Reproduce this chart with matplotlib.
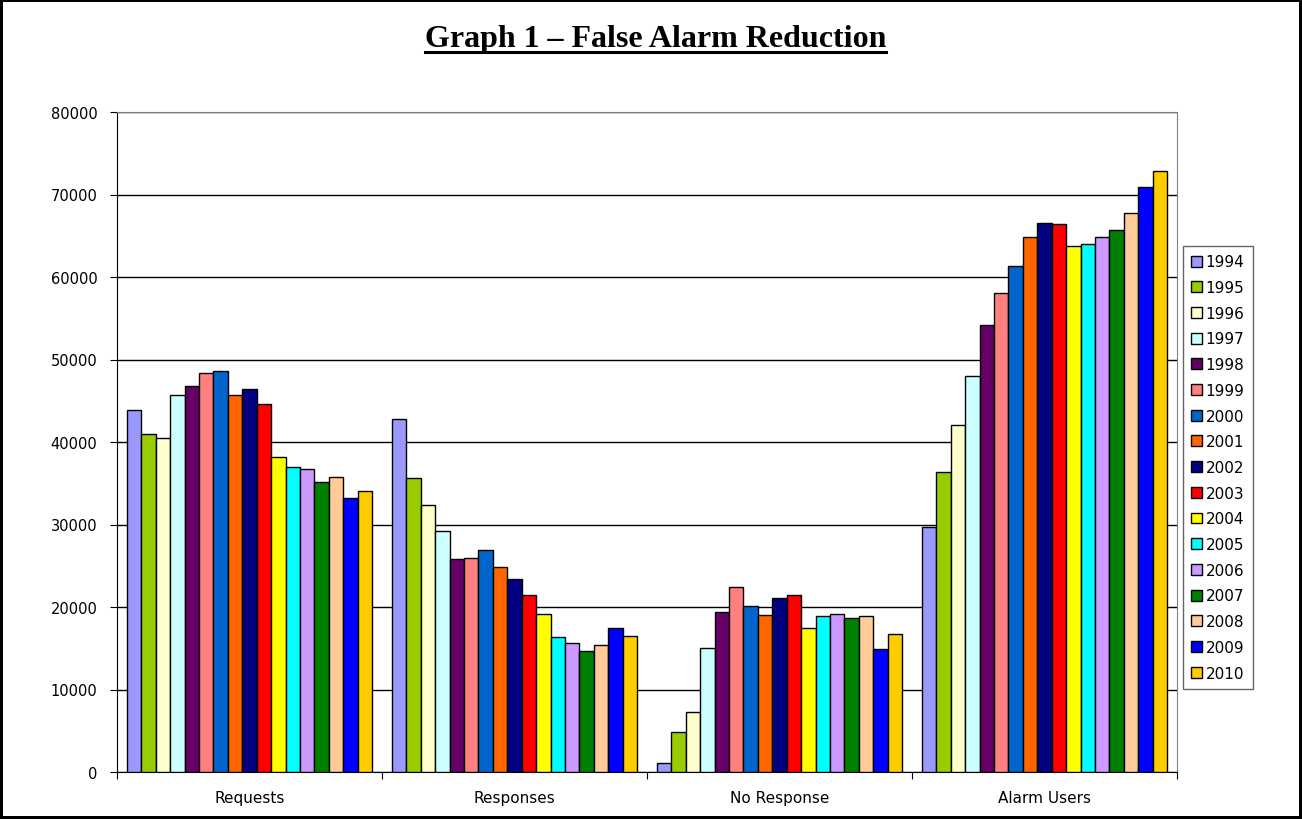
import numpy as np
import matplotlib.pyplot as plt
from matplotlib.lines import Line2D

# yearly counts for each category
categories = ["Requests", "Responses", "No Response", "Alarm Users"]
years = [str(y) for y in range(1994, 2011)]

requests = [43900, 40950, 40500, 45700, 46800, 48400, 48600, 45700, 46400,
            44600, 38200, 37000, 36700, 35200, 35800, 33200, 34100]
responses = [42800, 35600, 32400, 29200, 25850, 25900, 26900, 24850, 23400,
             21400, 19200, 16400, 15600, 14700, 15350, 17500, 16500]
no_response = [1100, 4800, 7300, 15050, 19400, 22450, 20100, 19050, 21050,
               21400, 17450, 18900, 19200, 18700, 18950, 14900, 16700]
alarm_users = [29750, 36350, 42100, 48000, 54200, 58100, 61300, 64800, 66600,
               66400, 63700, 63950, 64800, 65700, 67700, 70950, 72800]

colors = ["#9999FF", "#99CC00", "#FFFFCC", "#CCFFFF", "#660066", "#FF8080",
          "#0066CC", "#FF6600", "#000080", "#FF0000", "#FFFF00", "#00FFFF",
          "#CC99FF", "#008000", "#FFCC99", "#0000FF", "#FFCC00"]

data = np.array([requests, responses, no_response, alarm_users])  # shape (4, 17)

plt.rcParams['font.family'] = ['DejaVu Sans']

fig = plt.figure(figsize=(13.02, 8.2), dpi=100)
fig.patch.set_edgecolor('black')
fig.patch.set_linewidth(3)

ax = fig.add_axes([117/1302, 47/820, 1060/1302, 660/820])

n = len(years)
bar_w = 1.0 / (n + 1.4)
x = np.arange(len(categories))
for i, yr in enumerate(years):
    offs = (i - (n - 1) / 2) * bar_w
    ax.bar(x + offs, data[:, i], width=bar_w, color=colors[i],
           edgecolor='black', linewidth=1.0, label=yr, zorder=3)

ax.set_xlim(-0.5, len(categories) - 0.5)
ax.set_ylim(0, 80000)
ax.set_yticks(np.arange(0, 80001, 10000))
ax.yaxis.grid(True, color='black', linewidth=1.0, zorder=0)
ax.set_axisbelow(True)

# category labels centred, ticks on group boundaries
ax.set_xticks(np.arange(-0.5, len(categories), 1.0))
ax.set_xticklabels([])
ax.set_xticks(x, minor=True)
ax.set_xticklabels(categories, minor=True, fontsize=11)
ax.tick_params(axis='x', which='major', length=5, direction='out', color='black')
ax.tick_params(axis='x', which='minor', length=0, pad=13)
ax.tick_params(axis='y', length=5, direction='out', labelsize=10.5, pad=9)

for s in ['top', 'right']:
    ax.spines[s].set_color('#808080')
for s in ['left', 'bottom']:
    ax.spines[s].set_color('black')

leg = ax.legend(loc='upper left', bbox_to_anchor=(1183/1302, 1 - 247/820),
                bbox_transform=fig.transFigure, fontsize=11, frameon=True,
                fancybox=False, edgecolor='#404040', handlelength=0.72,
                handleheight=0.72, handletextpad=0.2, labelspacing=0.7,
                borderpad=0.55, borderaxespad=0)
leg.get_frame().set_linewidth(1.0)

title = fig.text(0.5035, 1 - 47/820, "Graph 1 \u2013 False Alarm Reduction",
                 ha='center', va='baseline', fontsize=23, fontweight='bold',
                 family=['Liberation Serif', 'DejaVu Serif'])

# underline the title
fig.canvas.draw()
bb = title.get_window_extent().transformed(fig.transFigure.inverted())
uy = 1 - 53/820
fig.add_artist(Line2D([bb.x0, bb.x1], [uy, uy], transform=fig.transFigure,
                      color='black', linewidth=2.2))

fig.savefig("out.png", dpi=100)
